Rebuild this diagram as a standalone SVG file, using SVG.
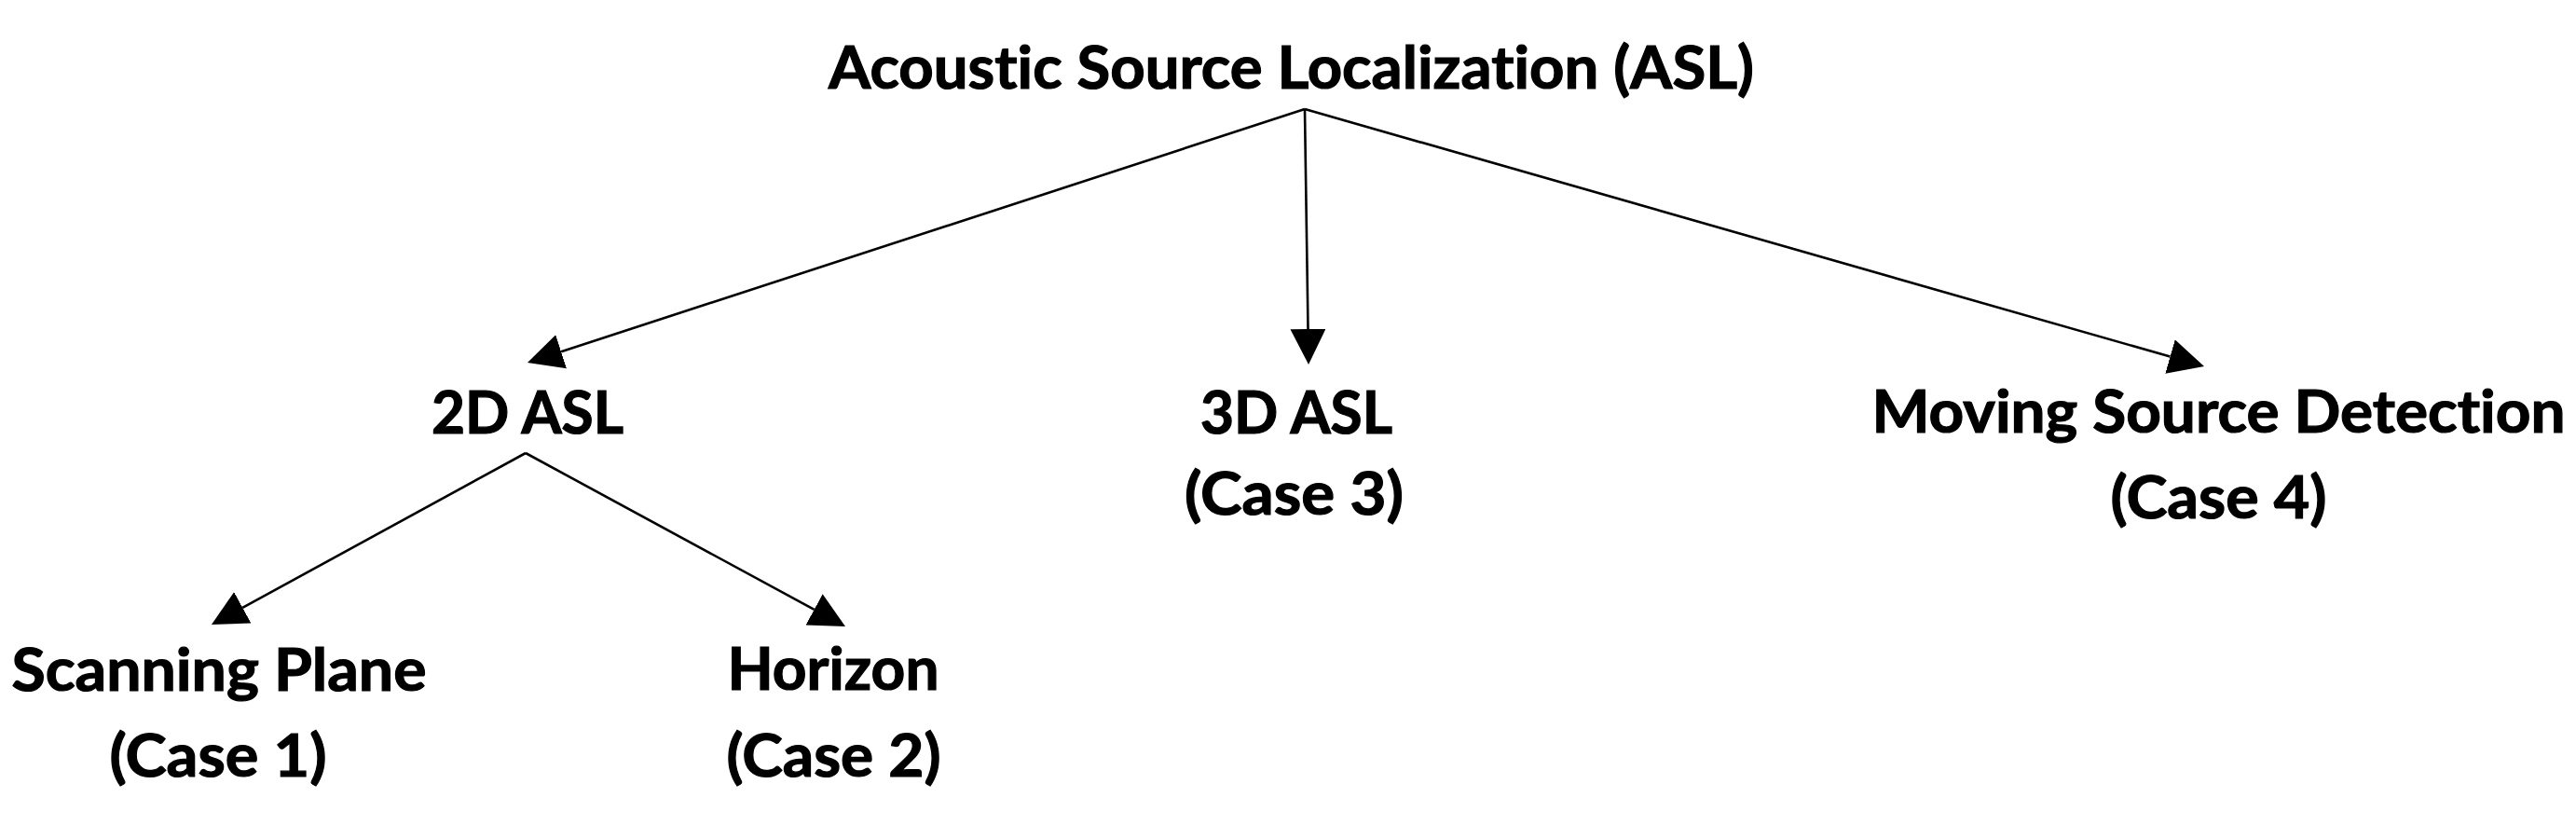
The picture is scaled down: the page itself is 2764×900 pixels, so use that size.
<svg xmlns="http://www.w3.org/2000/svg" width="2764" height="900" viewBox="0 0 2764 900">
<style>
.lbl{font-family:Lato,"Open Sans","Liberation Sans",sans-serif;font-weight:700;font-size:64px;fill:#000;stroke:#000;stroke-width:1.2;text-anchor:middle;font-variant-ligatures:none;font-feature-settings:"liga" 0,"clig" 0}
.edge{stroke:#000;stroke-width:2.6;fill:none}
</style>
<defs>
<marker id="arr" markerUnits="userSpaceOnUse" markerWidth="40" markerHeight="40" refX="0" refY="19" orient="auto" viewBox="0 0 40 40">
<path d="M0,0 L38,19 L0,38 z" fill="#000"/>
</marker>
</defs>
<rect width="2764" height="900" fill="#fff"/>
<g id="connectors">
<line class="edge" x1="1400" y1="117" x2="602.1" y2="377.3" marker-end="url(#arr)"/>
<line class="edge" x1="1400" y1="117" x2="1403.5" y2="353" marker-end="url(#arr)"/>
<line class="edge" x1="1400" y1="117" x2="2328.5" y2="382.6" marker-end="url(#arr)"/>
<line class="edge" x1="564" y1="486" x2="260.3" y2="651.8" marker-end="url(#arr)"/>
<line class="edge" x1="564" y1="486" x2="873.6" y2="653.9" marker-end="url(#arr)"/>
</g>
<g id="node-asl">
<text class="lbl" x="1385.5" y="95" textLength="993" lengthAdjust="spacingAndGlyphs">Acoustic Source Localization (ASL)</text>
</g>
<g id="node-2d">
<text class="lbl" x="566" y="465" textLength="206" lengthAdjust="spacingAndGlyphs">2D ASL</text>
</g>
<g id="node-3d">
<text class="lbl" x="1391" y="465" textLength="206" lengthAdjust="spacingAndGlyphs">3D ASL</text>
<text class="lbl" x="1388.5" y="552" textLength="235" lengthAdjust="spacingAndGlyphs">(Case 3)</text>
</g>
<g id="node-moving">
<text class="lbl" x="2380.5" y="464" textLength="744" lengthAdjust="spacingAndGlyphs">Moving Source Detection</text>
<text class="lbl" x="2380.5" y="556" textLength="232" lengthAdjust="spacingAndGlyphs">(Case 4)</text>
</g>
<g id="node-scanning">
<text class="lbl" x="235" y="741" textLength="445" lengthAdjust="spacingAndGlyphs">Scanning Plane</text>
<text class="lbl" x="234" y="833" textLength="233" lengthAdjust="spacingAndGlyphs">(Case 1)</text>
</g>
<g id="node-horizon">
<text class="lbl" x="894" y="740" textLength="227" lengthAdjust="spacingAndGlyphs">Horizon</text>
<text class="lbl" x="894.5" y="833" textLength="230" lengthAdjust="spacingAndGlyphs">(Case 2)</text>
</g>
</svg>
